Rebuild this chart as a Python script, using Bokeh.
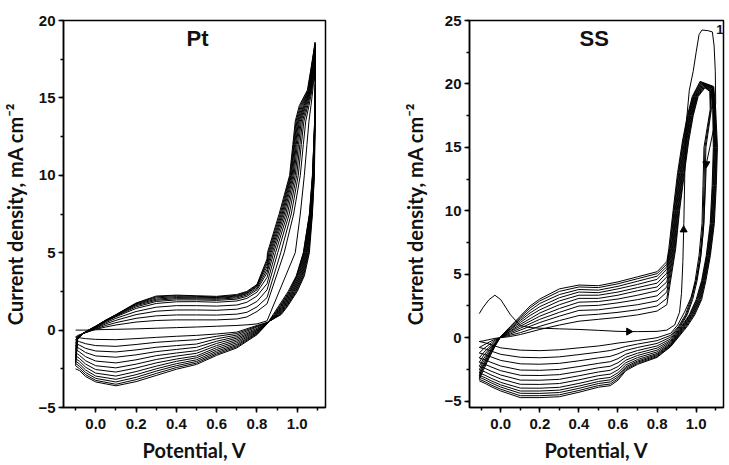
import math
from bokeh.plotting import figure
from bokeh.layouts import row
from bokeh.models import SingleIntervalTicker, NumeralTickFormatter, Label, Range1d
from bokeh.embed import file_html
from bokeh.resources import INLINE

# ---------------- Pt panel data (potential V, current density mA cm-2) ----------------
pt_start_v = -0.10
pt_start_i = 0.0
pt_fwd_v = [-0.09, -0.06, -0.03, 0.0, 0.05, 0.1, 0.2, 0.3, 0.4, 0.5, 0.6, 0.7, 0.75, 0.8, 0.85]
pt_fwd_i = [
    [0.0, 0.0, 0.0, 0.02, 0.04, 0.05, 0.08, 0.12, 0.16, 0.2, 0.25, 0.3, 0.34, 0.4, 0.6],
    [-0.35, -0.2, -0.08, 0.05, 0.2, 0.33, 0.52, 0.62, 0.66, 0.66, 0.66, 0.72, 0.85, 1.2, 1.7],
    [-0.4, -0.2, -0.06, 0.08, 0.3, 0.48, 0.76, 0.92, 0.98, 0.98, 0.97, 1.03, 1.15, 1.5, 2.1],
    [-0.45, -0.2, -0.05, 0.12, 0.4, 0.63, 1.0, 1.22, 1.3, 1.3, 1.28, 1.35, 1.5, 1.85, 2.6],
    [-0.5, -0.2, -0.03, 0.15, 0.48, 0.76, 1.2, 1.48, 1.58, 1.58, 1.55, 1.62, 1.8, 2.2, 3.0],
    [-0.5, -0.2, -0.02, 0.18, 0.55, 0.86, 1.4, 1.72, 1.83, 1.84, 1.8, 1.88, 2.05, 2.45, 3.4],
    [-0.55, -0.2, 0.0, 0.2, 0.58, 0.9, 1.5, 1.85, 1.95, 1.95, 1.92, 2.0, 2.18, 2.6, 3.7],
    [-0.55, -0.2, 0.0, 0.22, 0.6, 0.94, 1.58, 1.93, 2.03, 2.02, 1.99, 2.08, 2.27, 2.7, 3.9],
    [-0.6, -0.2, 0.02, 0.23, 0.62, 0.96, 1.64, 2.0, 2.1, 2.08, 2.05, 2.15, 2.35, 2.8, 4.1],
    [-0.6, -0.2, 0.03, 0.24, 0.63, 0.98, 1.69, 2.08, 2.16, 2.13, 2.1, 2.2, 2.4, 2.85, 4.3],
    [-0.6, -0.18, 0.04, 0.25, 0.64, 0.99, 1.72, 2.15, 2.22, 2.18, 2.14, 2.25, 2.45, 2.9, 4.45],
    [-0.6, -0.18, 0.05, 0.26, 0.65, 1.0, 1.75, 2.2, 2.26, 2.22, 2.18, 2.3, 2.5, 2.95, 4.6],
]
pt_up_i = [5.0, 7.5, 10.0, 12.0, 13.5, 14.5, 15.5]
pt_up_v = [
    [0.99, 1.015, 1.035, 1.048, 1.058, 1.068, 1.077],
    [0.935, 0.982, 1.015, 1.03, 1.042, 1.058, 1.073],
    [0.918, 0.97, 1.005, 1.02, 1.033, 1.052, 1.07],
    [0.903, 0.96, 0.997, 1.013, 1.026, 1.047, 1.068],
    [0.892, 0.951, 0.99, 1.006, 1.02, 1.042, 1.066],
    [0.883, 0.943, 0.984, 1.0, 1.015, 1.038, 1.064],
    [0.876, 0.936, 0.979, 0.995, 1.01, 1.034, 1.062],
    [0.87, 0.93, 0.975, 0.991, 1.006, 1.03, 1.06],
    [0.865, 0.925, 0.971, 0.987, 1.002, 1.025, 1.058],
    [0.86, 0.92, 0.968, 0.984, 0.998, 1.02, 1.056],
    [0.856, 0.915, 0.965, 0.981, 0.994, 1.015, 1.053],
    [0.852, 0.91, 0.962, 0.978, 0.99, 1.01, 1.05],
]
pt_pk_v = [1.083, 1.084, 1.085, 1.085, 1.086, 1.086, 1.087, 1.087, 1.088, 1.088, 1.088, 1.089]
pt_pk_i = [16.4, 16.8, 17.1, 17.4, 17.7, 17.9, 18.1, 18.3, 18.4, 18.5, 18.6, 18.5]
pt_dn_i = [16.0, 13.0, 10.0, 7.5, 5.0, 3.5, 2.5, 1.5, 1.0]
pt_dn_v = [
    [1.09, 1.088, 1.085, 1.075, 1.06, 1.035, 1.0, 0.95, 0.92],
    [1.09, 1.088, 1.084, 1.074, 1.057, 1.031, 0.996, 0.946, 0.916],
    [1.09, 1.087, 1.083, 1.073, 1.054, 1.027, 0.992, 0.942, 0.912],
    [1.09, 1.087, 1.082, 1.071, 1.051, 1.023, 0.988, 0.938, 0.908],
    [1.09, 1.087, 1.081, 1.07, 1.048, 1.019, 0.984, 0.934, 0.904],
    [1.09, 1.086, 1.08, 1.068, 1.045, 1.015, 0.98, 0.93, 0.9],
    [1.09, 1.086, 1.079, 1.067, 1.042, 1.011, 0.976, 0.926, 0.897],
    [1.09, 1.086, 1.078, 1.065, 1.039, 1.007, 0.972, 0.922, 0.894],
    [1.09, 1.085, 1.077, 1.064, 1.036, 1.003, 0.968, 0.918, 0.891],
    [1.09, 1.085, 1.076, 1.062, 1.033, 0.999, 0.964, 0.914, 0.888],
    [1.09, 1.085, 1.076, 1.061, 1.031, 0.997, 0.96, 0.91, 0.884],
    [1.09, 1.085, 1.075, 1.06, 1.03, 0.995, 0.955, 0.905, 0.88],
]
pt_rev_v = [0.85, 0.8, 0.7, 0.6, 0.5, 0.4, 0.3, 0.2, 0.1, 0.0, -0.05, -0.08, -0.10]
pt_rev_i = [
    [0.5, 0.3, -0.13, -0.25, -0.34, -0.4, -0.47, -0.55, -0.62, -0.6, -0.55, -0.5, -0.45],
    [0.48, 0.25, -0.22, -0.4, -0.62, -0.7, -0.79, -0.93, -1.05, -1.0, -0.88, -0.75, -0.65],
    [0.47, 0.2, -0.32, -0.56, -0.9, -1.0, -1.11, -1.28, -1.41, -1.35, -1.18, -0.98, -0.85],
    [0.46, 0.12, -0.42, -0.72, -1.11, -1.25, -1.39, -1.6, -1.75, -1.67, -1.45, -1.2, -1.05],
    [0.45, 0.05, -0.52, -0.86, -1.33, -1.48, -1.65, -1.92, -2.12, -2.0, -1.72, -1.42, -1.25],
    [0.44, 0.0, -0.62, -1.0, -1.5, -1.68, -1.9, -2.2, -2.44, -2.3, -1.98, -1.64, -1.45],
    [0.43, -0.05, -0.72, -1.13, -1.67, -1.87, -2.12, -2.45, -2.71, -2.55, -2.2, -1.84, -1.65],
    [0.42, -0.1, -0.82, -1.25, -1.79, -2.02, -2.33, -2.68, -2.97, -2.78, -2.4, -2.02, -1.85],
    [0.42, -0.15, -0.92, -1.36, -1.92, -2.17, -2.5, -2.88, -3.18, -2.97, -2.58, -2.2, -2.0],
    [0.41, -0.2, -1.0, -1.46, -2.03, -2.3, -2.65, -3.05, -3.35, -3.12, -2.74, -2.35, -2.15],
    [0.4, -0.25, -1.08, -1.55, -2.13, -2.42, -2.8, -3.2, -3.5, -3.25, -2.88, -2.5, -2.3],
    [0.4, -0.3, -1.15, -1.63, -2.22, -2.53, -2.93, -3.33, -3.6, -3.35, -3.0, -2.62, -2.5],
]

# ---------------- SS panel data ----------------
ss_start_v = -0.11
ss_start_i = 1.9
ss_fwd_v = [-0.09, -0.06, -0.03, 0.0, 0.05, 0.1, 0.15, 0.2, 0.3, 0.4, 0.5, 0.6, 0.7, 0.8, 0.85]
ss_fwd_i = [
    [2.4, 3.0, 3.35, 3.0, 1.8, 0.95, 0.8, 0.75, 0.7, 0.65, 0.58, 0.5, 0.48, 0.5, 0.6],
    [-0.25, -0.15, -0.05, 0.0, 0.1, 0.25, 0.45, 0.65, 1.0, 1.3, 1.45, 1.6, 1.8, 2.1, 2.6],
    [-0.6, -0.35, -0.12, 0.02, 0.2, 0.4, 0.65, 0.9, 1.35, 1.75, 1.85, 2.0, 2.2, 2.5, 3.1],
    [-0.9, -0.55, -0.2, 0.03, 0.3, 0.6, 0.9, 1.2, 1.7, 2.15, 2.2, 2.4, 2.6, 2.9, 3.6],
    [-1.2, -0.75, -0.3, 0.04, 0.4, 0.75, 1.1, 1.45, 2.0, 2.5, 2.55, 2.75, 3.0, 3.3, 4.0],
    [-1.45, -0.9, -0.38, 0.05, 0.5, 0.9, 1.3, 1.7, 2.3, 2.8, 2.85, 3.05, 3.35, 3.7, 4.4],
    [-1.7, -1.05, -0.45, 0.06, 0.55, 1.05, 1.5, 1.95, 2.6, 3.1, 3.1, 3.35, 3.7, 4.0, 4.8],
    [-1.9, -1.2, -0.5, 0.07, 0.65, 1.2, 1.75, 2.2, 2.9, 3.35, 3.35, 3.6, 3.95, 4.3, 5.1],
    [-2.1, -1.3, -0.55, 0.08, 0.7, 1.35, 1.95, 2.45, 3.15, 3.6, 3.55, 3.85, 4.2, 4.6, 5.4],
    [-2.25, -1.4, -0.6, 0.09, 0.78, 1.48, 2.15, 2.7, 3.4, 3.8, 3.75, 4.05, 4.45, 4.85, 5.6],
    [-2.4, -1.5, -0.65, 0.1, 0.85, 1.6, 2.35, 2.9, 3.65, 4.0, 3.95, 4.25, 4.65, 5.05, 5.8],
    [-2.6, -1.6, -0.7, 0.1, 0.9, 1.7, 2.5, 3.05, 3.85, 4.15, 4.1, 4.4, 4.8, 5.2, 6.0],
]
# first cycle: anodic rise, peak "1" and return
ss0_v = [0.89, 0.915, 0.925, 0.932, 0.937, 0.942, 0.95, 0.965, 0.985, 1.0, 1.015, 1.03, 1.06,
         1.083, 1.092, 1.098, 1.1, 1.09, 1.07, 1.052, 1.044, 1.035, 1.02, 1.0, 0.975, 0.94, 0.905]
ss0_i = [1.0, 2.0, 3.5, 6.0, 9.0, 13.0, 17.0, 19.5, 21.0, 22.5, 23.9, 24.25, 24.2,
         24.1, 23.0, 21.0, 18.5, 16.5, 15.0, 13.7, 10.5, 8.2, 6.0, 4.5, 3.2, 2.0, 1.0]
ss_up_i = [7.0, 10.0, 13.0, 15.5, 17.5, 19.0]
ss_up_v = [
    [0.895, 0.915, 0.94, 0.962, 0.985, 1.01],
    [0.892, 0.912, 0.937, 0.959, 0.982, 1.007],
    [0.888, 0.908, 0.933, 0.956, 0.979, 1.004],
    [0.885, 0.905, 0.93, 0.952, 0.976, 1.001],
    [0.881, 0.902, 0.926, 0.949, 0.973, 0.998],
    [0.878, 0.898, 0.923, 0.946, 0.97, 0.995],
    [0.874, 0.895, 0.919, 0.943, 0.967, 0.992],
    [0.871, 0.892, 0.916, 0.94, 0.964, 0.989],
    [0.867, 0.888, 0.912, 0.936, 0.961, 0.986],
    [0.864, 0.885, 0.909, 0.933, 0.958, 0.983],
    [0.86, 0.882, 0.905, 0.93, 0.955, 0.98],
]
ss_pk_v = [1.045, 1.043, 1.04, 1.038, 1.035, 1.033, 1.03, 1.028, 1.025, 1.023, 1.02]
ss_pk_i = [19.7, 19.75, 19.8, 19.85, 19.9, 19.95, 20.0, 20.05, 20.1, 20.15, 20.2]
ss_sh_v = [1.07, 1.072, 1.074, 1.076, 1.078, 1.08, 1.082, 1.084, 1.086, 1.088, 1.09]
ss_sh_i = [19.4, 19.45, 19.5, 19.55, 19.6, 19.65, 19.7, 19.7, 19.75, 19.75, 19.8]
ss_dn_i = [18.0, 15.0, 12.0, 9.0, 6.5, 4.5, 3.0, 1.8, 0.9]
ss_dn_v = [
    [1.072, 1.04, 1.035, 1.03, 1.015, 0.995, 0.972, 0.945, 0.91],
    [1.075, 1.045, 1.04, 1.035, 1.02, 1.0, 0.977, 0.95, 0.915],
    [1.078, 1.05, 1.045, 1.04, 1.025, 1.005, 0.982, 0.954, 0.92],
    [1.085, 1.088, 1.082, 1.072, 1.052, 1.028, 1.0, 0.965, 0.925],
    [1.087, 1.091, 1.085, 1.075, 1.055, 1.031, 1.004, 0.968, 0.929],
    [1.089, 1.094, 1.088, 1.078, 1.058, 1.034, 1.008, 0.972, 0.933],
    [1.091, 1.097, 1.091, 1.081, 1.061, 1.037, 1.012, 0.976, 0.937],
    [1.093, 1.1, 1.094, 1.084, 1.064, 1.04, 1.016, 0.98, 0.941],
    [1.095, 1.103, 1.097, 1.087, 1.067, 1.043, 1.02, 0.984, 0.945],
    [1.097, 1.106, 1.1, 1.09, 1.07, 1.046, 1.024, 0.988, 0.95],
    [1.1, 1.109, 1.103, 1.093, 1.073, 1.05, 1.028, 0.993, 0.955],
]
ss_rev_v = [0.87, 0.8, 0.7, 0.64, 0.6, 0.56, 0.5, 0.4, 0.3, 0.2, 0.1, 0.0, -0.05, -0.08, -0.11]
ss_rev_i = [
    [0.35, 0.0, -0.22, -0.35, -0.42, -0.52, -0.65, -0.8, -0.95, -1.02, -0.98, -0.8, -0.55, -0.4, -0.3],
    [0.19, -0.23, -0.5, -0.69, -0.86, -1.01, -1.14, -1.33, -1.51, -1.58, -1.54, -1.31, -1.05, -0.88, -0.77],
    [0.05, -0.45, -0.77, -1.0, -1.27, -1.47, -1.59, -1.82, -2.02, -2.09, -2.06, -1.79, -1.51, -1.33, -1.2],
    [-0.09, -0.65, -1.01, -1.3, -1.65, -1.89, -2.02, -2.27, -2.5, -2.57, -2.55, -2.23, -1.94, -1.74, -1.6],
    [-0.21, -0.82, -1.22, -1.54, -1.97, -2.25, -2.37, -2.66, -2.91, -2.98, -2.96, -2.6, -2.3, -2.1, -1.94],
    [-0.31, -0.98, -1.4, -1.77, -2.27, -2.57, -2.7, -3.0, -3.28, -3.35, -3.34, -2.94, -2.63, -2.42, -2.25],
    [-0.41, -1.12, -1.57, -1.97, -2.53, -2.87, -2.99, -3.32, -3.61, -3.68, -3.67, -3.25, -2.93, -2.7, -2.53],
    [-0.49, -1.24, -1.72, -2.15, -2.76, -3.13, -3.25, -3.6, -3.91, -3.98, -3.97, -3.52, -3.19, -2.96, -2.78],
    [-0.55, -1.33, -1.84, -2.29, -2.94, -3.32, -3.45, -3.81, -4.13, -4.2, -4.2, -3.72, -3.39, -3.15, -2.97],
    [-0.61, -1.41, -1.93, -2.4, -3.09, -3.49, -3.61, -3.99, -4.32, -4.39, -4.38, -3.89, -3.55, -3.31, -3.12],
    [-0.66, -1.49, -2.02, -2.51, -3.23, -3.65, -3.77, -4.16, -4.5, -4.57, -4.57, -4.06, -3.72, -3.47, -3.28],
    [-0.7, -1.55, -2.1, -2.6, -3.35, -3.78, -3.9, -4.3, -4.65, -4.72, -4.72, -4.2, -3.85, -3.6, -3.4],
]
# sweep-direction arrows on the first SS cycle
ss_arrow_v = [0.655, 0.936, 1.052]
ss_arrow_i = [0.48, 8.5, 13.7]
ss_arrow_dir = [-math.pi / 2, 0.0, math.pi]

x_range = (-0.16, 1.14)
pt_y_range = (-5, 20)
ss_y_range = (-5.5, 25)


def build_pt():
    xs, ys = [pt_start_v], [pt_start_i]
    for k in range(len(pt_fwd_i)):
        xs += pt_fwd_v; ys += pt_fwd_i[k]
        xs += pt_up_v[k]; ys += pt_up_i
        xs.append(pt_pk_v[k]); ys.append(pt_pk_i[k])
        xs += pt_dn_v[k]; ys += pt_dn_i
        xs += pt_rev_v; ys += pt_rev_i[k]
    return xs, ys


def build_ss():
    xs, ys = [ss_start_v], [ss_start_i]
    xs += ss_fwd_v; ys += ss_fwd_i[0]
    xs += ss0_v; ys += ss0_i
    xs += ss_rev_v; ys += ss_rev_i[0]
    for k in range(1, len(ss_fwd_i)):
        xs += ss_fwd_v; ys += ss_fwd_i[k]
        xs += ss_up_v[k - 1]; ys += ss_up_i
        xs.append(ss_pk_v[k - 1]); ys.append(ss_pk_i[k - 1])
        xs.append(ss_sh_v[k - 1]); ys.append(ss_sh_i[k - 1])
        xs += ss_dn_v[k - 1]; ys += ss_dn_i
        xs += ss_rev_v; ys += ss_rev_i[k]
    return xs, ys


def make_fig(width, height, bl, br, bt, bb, yr, ylab_standoff):
    p = figure(width=width, height=height, output_backend="svg", toolbar_location=None,
               x_range=Range1d(*x_range), y_range=Range1d(*yr))
    p.min_border_left = bl
    p.min_border_right = br
    p.min_border_top = bt
    p.min_border_bottom = bb
    p.background_fill_color = "white"
    p.border_fill_color = "white"
    p.outline_line_color = "black"
    p.outline_line_width = 1.5
    p.outline_line_alpha = 1.0
    p.xgrid.visible = False
    p.ygrid.visible = False
    p.xaxis.ticker = SingleIntervalTicker(interval=0.2, num_minor_ticks=2)
    p.yaxis.ticker = SingleIntervalTicker(interval=5, num_minor_ticks=2)
    p.xaxis.formatter = NumeralTickFormatter(format="0.0")
    p.xaxis.axis_label = "Potential, V"
    p.yaxis.axis_label = "Current density, mA cm\u207b\u00b2"
    for ax in list(p.xaxis) + list(p.yaxis):
        ax.axis_line_width = 1.5
        ax.axis_line_color = "black"
        ax.major_tick_out = 5
        ax.major_tick_in = 0
        ax.minor_tick_out = 3
        ax.minor_tick_in = 0
        ax.major_tick_line_width = 1.5
        ax.minor_tick_line_width = 1.5
        ax.major_tick_line_color = "black"
        ax.minor_tick_line_color = "black"
        ax.major_label_text_font = "Liberation Sans"
        ax.major_label_text_font_style = "bold"
        ax.major_label_text_font_size = "15px"
        ax.major_label_text_color = "#111111"
        ax.axis_label_text_font = "Lato"
        ax.axis_label_text_font_style = "bold"
        ax.axis_label_text_font_size = "20px"
        ax.axis_label_text_color = "#111111"
    p.xaxis.major_label_standoff = 6
    p.yaxis.major_label_standoff = 3
    p.xaxis.axis_label_standoff = 6
    p.yaxis.axis_label_standoff = ylab_standoff
    return p


p1 = make_fig(400, 464, 63, 75, 20, 54, pt_y_range, 8)
vx, vy = build_pt()
p1.line(vx, vy, line_color="black", line_width=1.0)
p1.add_layout(Label(x=0.505, y=18.85, text="Pt", text_align="center", text_baseline="middle",
                    text_font="Liberation Sans", text_font_style="bold", text_font_size="22px",
                    text_color="#111111"))

p2 = make_fig(329, 464, 62, 6, 17, 54, ss_y_range, 14)
sx, sy = build_ss()
p2.line(sx, sy, line_color="black", line_width=1.0)
p2.scatter(ss_arrow_v, ss_arrow_i, marker="triangle", angle=ss_arrow_dir, size=7,
           fill_color="black", line_color="black")
p2.add_layout(Label(x=0.478, y=23.6, text="SS", text_align="center", text_baseline="middle",
                    text_font="Liberation Sans", text_font_style="bold", text_font_size="22px",
                    text_color="#111111"))
p2.add_layout(Label(x=1.103, y=24.3, text="1", text_align="left", text_baseline="middle",
                    text_font="Liberation Sans", text_font_style="bold", text_font_size="13px",
                    text_color="#111111"))

layout = row(p1, p2)
open("out.html", "w").write(file_html(layout, INLINE))
